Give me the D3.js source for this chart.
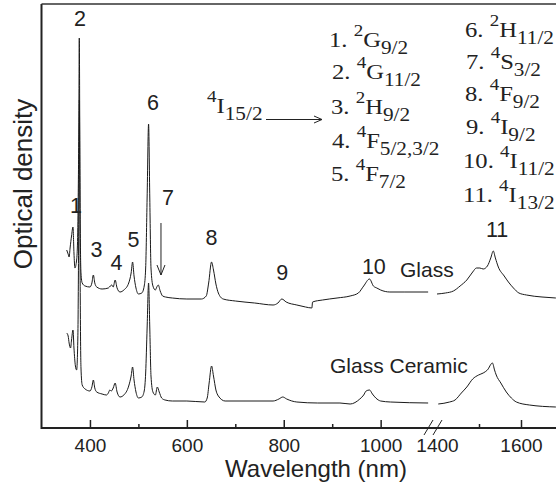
<!DOCTYPE html>
<html>
<head>
<meta charset="utf-8">
<script src="https://cdn.jsdelivr.net/npm/d3@7"></script>
<style>
  body { margin: 0; background: #fff; }
  svg { display: block; }
  .sans { font-family: "Liberation Sans", Arial, sans-serif; fill: #222; }
  .serif { font-family: "Liberation Serif", "Times New Roman", serif; fill: #222; }
</style>
</head>
<body>
<svg id="chart" width="556" height="488"></svg>
<script>
// Er3+ absorption spectra, wavelength (nm) vs optical density (arb. units)
// visible / near-IR part, left of the axis break
const glassVis = [
  [352, 1.78], [355, 1.74], [357, 1.71], [359, 1.80], [362, 1.92], [365, 2.01], [367, 1.75],
  [369, 1.60], [372, 1.66], [374, 1.80], [375.5, 2.2], [377, 3.0], [378, 3.90], [379, 3.0],
  [380, 2.0], [381.5, 1.55], [384, 1.45], [390, 1.42], [400, 1.41], [404, 1.45], [407, 1.53],
  [410, 1.45], [414, 1.41], [425, 1.39], [438, 1.40], [442, 1.42], [445, 1.43], [448, 1.41],
  [452, 1.48], [456, 1.40], [462, 1.36], [470, 1.38], [480, 1.45], [485, 1.55], [488, 1.66],
  [491, 1.52], [495, 1.40], [500, 1.34], [507, 1.35], [512, 1.42], [515, 1.6], [518, 2.3],
  [521, 3.04], [523.5, 2.3], [526, 1.6], [530, 1.42], [535, 1.38], [538, 1.41], [541, 1.43],
  [545, 1.37], [550, 1.32], [556, 1.31], [570, 1.30], [600, 1.29], [630, 1.29], [640, 1.32],
  [645, 1.45], [651, 1.66], [655, 1.58], [660, 1.44], [665, 1.35], [675, 1.29], [700, 1.27],
  [740, 1.25], [778, 1.23], [788, 1.25], [796, 1.29], [805, 1.26], [827, 1.23], [845, 1.21],
  [858, 1.20], [859.5, 1.26], [880, 1.28], [910, 1.30], [937, 1.32], [954, 1.35], [965, 1.42],
  [977, 1.49], [985, 1.42], [992, 1.40], [1000, 1.38], [1019, 1.36], [1050, 1.36], [1098, 1.36]
];
const ceramicVis = [
  [352, 0.95], [355, 0.92], [357, 0.85], [360, 0.80], [362, 0.88], [365, 0.98], [367, 0.80],
  [370, 0.62], [372.5, 0.58], [375, 0.9], [376.5, 1.8], [377.5, 2.8], [378.2, 3.28], [379, 2.4],
  [380, 1.3], [381.5, 0.6], [384, 0.43], [390, 0.39], [400, 0.37], [404, 0.41], [407, 0.48],
  [410, 0.40], [414, 0.36], [425, 0.34], [434, 0.33], [438, 0.35], [441, 0.38], [444, 0.37],
  [448, 0.40], [452, 0.45], [456, 0.36], [462, 0.31], [470, 0.33], [480, 0.42], [485, 0.52],
  [488, 0.61], [491, 0.48], [495, 0.36], [500, 0.30], [507, 0.31], [512, 0.37], [515, 0.55],
  [518, 1.0], [521, 1.45], [523.5, 1.0], [526, 0.52], [530, 0.36], [535, 0.33], [539, 0.41],
  [543, 0.36], [548, 0.30], [555, 0.28], [570, 0.27], [600, 0.27], [637, 0.26], [642, 0.30],
  [646, 0.45], [651, 0.62], [655, 0.52], [660, 0.38], [665, 0.32], [679, 0.27], [720, 0.27],
  [778, 0.27], [790, 0.29], [798, 0.31], [806, 0.29], [827, 0.26], [870, 0.25], [916, 0.25],
  [937, 0.24], [957, 0.29], [965, 0.33], [970, 0.37], [977, 0.38], [983, 0.34], [990, 0.30],
  [1000, 0.27], [1020, 0.26], [1098, 0.25]
];
// 4I13/2 band, right of the break
const glassIR = [
  [1400, 1.34], [1420, 1.35], [1439, 1.37], [1455, 1.42], [1471, 1.48], [1485, 1.56],
  [1494, 1.60], [1502, 1.60], [1510, 1.59], [1520, 1.62], [1528, 1.70], [1534, 1.77],
  [1539, 1.70], [1546, 1.61], [1560, 1.52], [1570, 1.46], [1582, 1.40], [1595, 1.35],
  [1613, 1.33], [1650, 1.31], [1683, 1.30]
];
const ceramicIR = [
  [1403, 0.24], [1430, 0.26], [1443, 0.28], [1458, 0.35], [1471, 0.41], [1485, 0.49],
  [1499, 0.53], [1510, 0.55], [1520, 0.58], [1532, 0.65], [1537, 0.58], [1541, 0.53],
  [1552, 0.45], [1565, 0.36], [1577, 0.30], [1589, 0.26], [1620, 0.23], [1683, 0.21]
];

const majorTicksVis = [400, 600, 800, 1000];
const minorTicksVis = [500, 700, 900];
const majorTicksIR = [1400, 1600];
const minorTicksIR = [1500];

// peak numbers: label position [wavelength, od]
const peakNames = ["1", "2", "3", "4", "5", "6", "7", "8", "9", "10", "11"];
const peakLabelAt = [
  [371, 2.15], [379.5, 4.02], [413.5, 1.71], [454.8, 1.58], [489.9, 1.81], [530, 3.18],
  [561, 2.23], [651, 1.83], [797, 1.48], [986, 1.54], [1543, 1.91]
];

// excited states reached from 4I15/2
const stateNum = ["1.", "2.", "3.", "4.", "5.", "6.", "7.", "8.", "9.", "10.", "11."];
const stateSup = ["2", "4", "2", "4", "4", "2", "4", "4", "4", "4", "4"];
const stateTerm = ["G", "G", "H", "F", "F", "H", "S", "F", "I", "I", "I"];
const stateSub = ["9/2", "11/2", "9/2", "5/2,3/2", "7/2", "11/2", "3/2", "9/2", "9/2", "11/2", "13/2"];

const svg = d3.select("#chart");
const mLeft = 41.5, mTop = 4, mBottom = 428, mRight = 556;

const xVis = d3.scaleLinear().domain([300, 1100]).range([mLeft, 429.1]);
const xIR = d3.scaleLinear().domain([1400, 1700]).range([437, 563]);
const y = d3.scaleLinear().domain([0, 4.24]).range([mBottom, mTop]);

// SPECTRA
function drawCurve(data, x) {
  const line = d3.line()
      .x(d => x(d[0]))
      .y(d => y(d[1]))
      .curve(d3.curveMonotoneX);
  svg.append("path")
      .datum(data)
      .attr("d", line)
      .attr("fill", "none")
      .attr("stroke", "#1a1a1a")
      .attr("stroke-width", 1);
}
drawCurve(glassVis, xVis);
drawCurve(ceramicVis, xVis);
drawCurve(glassIR, xIR);
drawCurve(ceramicIR, xIR);

// AXES
function addAxis(x, major, minor) {
  const g = svg.append("g").attr("transform", `translate(0,${mBottom})`);
  g.call(d3.axisBottom(x).tickValues(major).tickSizeInner(-8).tickSizeOuter(0)
      .tickPadding(10.5).tickFormat(d3.format("d")));
  g.call(gg => gg.select(".domain").remove());
  g.selectAll("line").attr("stroke", "#222").attr("stroke-width", 1.5);
  g.selectAll("text").attr("class", "sans").attr("font-size", 19).attr("fill", "#222");
  g.attr("font-family", null);

  const m = svg.append("g").attr("transform", `translate(0,${mBottom})`);
  m.call(d3.axisBottom(x).tickValues(minor).tickSizeInner(-4).tickSizeOuter(0).tickFormat(""));
  m.call(gg => gg.select(".domain").remove());
  m.selectAll("line").attr("stroke", "#222").attr("stroke-width", 1.5);
}
addAxis(xVis, majorTicksVis, minorTicksVis);
addAxis(xIR, majorTicksIR, minorTicksIR);
// no tick at 1400, the break sits there
svg.selectAll(".tick").filter(d => d === 1400).select("line").remove();

// frame
svg.append("line").attr("x1", mLeft).attr("x2", mRight).attr("y1", mBottom).attr("y2", mBottom)
    .attr("stroke", "#222").attr("stroke-width", 2);
svg.append("line").attr("x1", mLeft).attr("x2", mLeft).attr("y1", mTop).attr("y2", mBottom + 1)
    .attr("stroke", "#222").attr("stroke-width", 2);
svg.append("line").attr("x1", mLeft).attr("x2", mRight).attr("y1", mTop).attr("y2", mTop)
    .attr("stroke", "#333").attr("stroke-width", 1.5);

// axis break marks
[424, 433].forEach(bx => {
  svg.append("line").attr("x1", bx).attr("y1", mBottom + 7).attr("x2", bx + 9).attr("y2", mBottom - 8)
      .attr("stroke", "#222").attr("stroke-width", 1);
});

// titles
svg.append("text").attr("class", "sans")
    .attr("x", 316).attr("y", 477)
    .attr("text-anchor", "middle").attr("font-size", 24)
    .text("Wavelength (nm)");
svg.append("text").attr("class", "sans")
    .attr("transform", "translate(31.5,184) rotate(-90)")
    .attr("text-anchor", "middle").attr("font-size", 26)
    .text("Optical density");

// peak numbers
peakNames.forEach((name, i) => {
  const [wl, od] = peakLabelAt[i];
  const x = wl > 1200 ? xIR : xVis;
  svg.append("text").attr("class", "sans")
      .attr("x", x(wl)).attr("y", y(od))
      .attr("text-anchor", "middle").attr("font-size", 21.5)
      .text(name);
});

// arrow marking peak 7
function arrowDown(px, y1, y2) {
  svg.append("line").attr("x1", px).attr("x2", px).attr("y1", y1).attr("y2", y2)
      .attr("stroke", "#222").attr("stroke-width", 1);
  svg.append("path").attr("d", `M${px - 4},${y2 - 10} L${px},${y2} L${px + 4},${y2 - 10}`)
      .attr("fill", "none").attr("stroke", "#222").attr("stroke-width", 1);
}
arrowDown(xVis(546.6), y(2.05), y(1.53));

// series names
svg.append("text").attr("class", "sans").attr("font-size", 21)
    .attr("x", xVis(1040)).attr("y", y(1.51)).text("Glass");
svg.append("text").attr("class", "sans").attr("font-size", 21)
    .attr("x", xVis(895.5)).attr("y", y(0.55)).text("Glass Ceramic");

// term symbols: serif, a bit stretched sideways like the original
function termText(x0, y0, prefix, sup, term, sub) {
  const t = svg.append("text").attr("class", "serif").attr("font-size", 22)
      .attr("transform", `translate(${x0},${y0}) scale(1.12,1)`);
  if (prefix) t.append("tspan").text(prefix + " ");
  t.append("tspan").attr("font-size", 17).attr("dy", -11).text(sup);
  t.append("tspan").attr("dy", 11).text(term);
  t.append("tspan").attr("font-size", 19).attr("dy", 7).text(sub);
}

// ground state with arrow
termText(207, 113, null, "4", "I", "15/2");
svg.append("line").attr("x1", 266).attr("x2", 322).attr("y1", 119.5).attr("y2", 119.5)
    .attr("stroke", "#222").attr("stroke-width", 1);
svg.append("path").attr("d", "M314,116 L322,119.5 L314,123")
    .attr("fill", "none").attr("stroke", "#222").attr("stroke-width", 1);

// list of excited states, two columns
const colX = [329, 332, 331, 332, 331, 465, 466, 465, 466, 463, 463];
const rowY = [47, 79, 114, 148, 181, 37, 69, 101, 134, 168, 202];
stateNum.forEach((num, i) => {
  termText(colX[i], rowY[i], num, stateSup[i], stateTerm[i], stateSub[i]);
});
</script>
</body>
</html>
